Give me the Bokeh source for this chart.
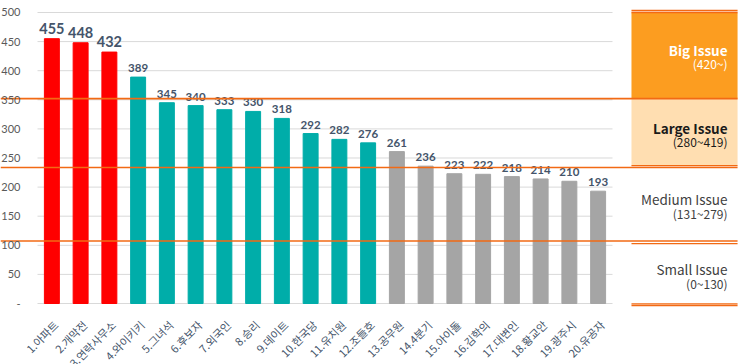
from bokeh.plotting import figure
from bokeh.models import ColumnDataSource, FixedTicker, Range1d, LabelSet
from bokeh.core.properties import value
from bokeh.embed import file_html
from bokeh.resources import INLINE
import math

# ---- data ----
keywords = ["1.아파트", "2.개막전", "3.연락사무소", "4.와이키키", "5.그녀석", "6.후보자",
            "7.외국인", "8.승리", "9.데이트", "10.한국당", "11.유치원", "12.조들호",
            "13.공무원", "14.4분기", "15.아이돌", "16.김학의", "17.대변인", "18.황교안",
            "19.광주시", "20.유공자"]
counts = [455, 448, 432, 389, 345, 340, 333, 330, 318, 292, 282, 276,
          261, 236, 223, 222, 218, 214, 210, 193]
issue_class = ["Big"] * 3 + ["Large"] * 9 + ["Medium"] * 8
y_ticks = [0, 50, 100, 150, 200, 250, 300, 350, 400, 450, 500]

legend_titles = ["Big Issue", "Large Issue", "Medium Issue", "Small Issue"]
legend_ranges = ["(420~)", "(280~419)", "(131~279)", "(0~130)"]

# ---- styling ----
class_color = {"Big": "#FF0000", "Large": "#00ADA9", "Medium": "#A5A5A5"}
ORANGE = "#F26A14"
LABEL = "#44546A"

xs = list(range(1, len(counts) + 1))
src = ColumnDataSource(dict(
    x=xs, top=counts, color=[class_color[c] for c in issue_class],
))

XL, X0, XP, X1, XR = -0.787, 0.5, 21.16, 24.85, 25.126
p = figure(width=745, height=364, output_backend="svg", toolbar_location=None,
           x_range=Range1d(XL, XR), y_range=Range1d(-104.8, 520.6),
           min_border_left=0, min_border_right=0, min_border_top=0, min_border_bottom=0)
p.outline_line_color = None
p.background_fill_color = "white"
p.xgrid.visible = False
p.ygrid.visible = False
p.xaxis.visible = False

# grid lines limited to the chart area
p.segment(x0=[X0] * len(y_ticks), x1=[20.5] * len(y_ticks), y0=y_ticks, y1=y_ticks,
          line_color="#D9D9D9", line_width=1)

# bars
p.vbar(x="x", top="top", width=0.52, bottom=0, color="color", source=src)

# value labels
big = ColumnDataSource(dict(x=xs[:3], y=counts[:3], t=[str(v) for v in counts[:3]]))
rest = ColumnDataSource(dict(x=xs[3:], y=counts[3:], t=[str(v) for v in counts[3:]]))
p.text(x="x", y="y", text="t", source=big, text_align="center", text_baseline="bottom",
       y_offset=-5, text_font=value("Lato"), text_font_style="bold",
       text_font_size="14.5px", text_color=LABEL)
p.text(x="x", y="y", text="t", source=rest, text_align="center", text_baseline="bottom",
       y_offset=-5, text_font=value("Lato"), text_font_style="bold",
       text_font_size="11.5px", text_color=LABEL)

# category labels under the bars (rotated 45 degrees)
cat = ColumnDataSource(dict(x=xs, y=[0] * len(xs), t=keywords))
p.add_layout(LabelSet(x="x", y="y", text="t", source=cat, angle=math.pi / 4,
                      text_align="right", text_baseline="middle", x_offset=4, y_offset=-19,
                      text_font=value("Noto Sans CJK KR"), text_font_size="11px",
                      text_color=LABEL))

# right-hand legend panel
p.quad(left=[XP], right=[X1], top=[500], bottom=[352], fill_color="#FC9D20", line_color=None)
p.quad(left=[XP], right=[X1], top=[352], bottom=[237], fill_color="#FFDEB1", line_color=None)

# orange separator lines
p.segment(x0=[XL, XL, XL], x1=[X1, X1, X1], y0=[352, 233.7, 107.5], y1=[352, 233.7, 107.5],
          line_color=ORANGE, line_width=1.6)
panel_levels = [503.4, 500, 236.8, 102.8, -0.5, -3.4]
p.segment(x0=[XP] * 6, x1=[X1] * 6, y0=panel_levels, y1=panel_levels,
          line_color=ORANGE, line_width=1.3)

tx = 24.5
title_y = [436, 302, 179, 60]
range_y = [412, 278, 155, 34]
title_col = ["white", "#1A1A1A", "#404040", "#404040"]
title_style = ["bold", "bold", "normal", "normal"]
for i in range(4):
    p.text(x=[tx], y=[title_y[i]], text=[legend_titles[i]], text_align="right",
           text_baseline="middle", text_font=value("Noto Sans CJK KR"),
           text_font_size="13.5px", text_color=title_col[i], text_font_style=title_style[i])
    p.text(x=[tx], y=[range_y[i]], text=[legend_ranges[i]], text_align="right",
           text_baseline="middle", text_font=value("Noto Sans CJK KR"),
           text_font_size="12px", text_color=title_col[i], text_font_style="normal")

# y axis, drawn at the left edge of the bar area
p.yaxis.fixed_location = X0
p.yaxis.ticker = FixedTicker(ticks=y_ticks)
p.yaxis.major_label_overrides = {0: "-"}
p.yaxis.axis_line_color = None
p.yaxis.major_tick_line_color = None
p.yaxis.minor_tick_line_color = None
p.yaxis.major_label_standoff = 11
p.yaxis.major_label_text_font = "Lato"
p.yaxis.major_label_text_font_size = "11px"
p.yaxis.major_label_text_color = "#595959"

open("out.html", "w").write(file_html(p, INLINE))
